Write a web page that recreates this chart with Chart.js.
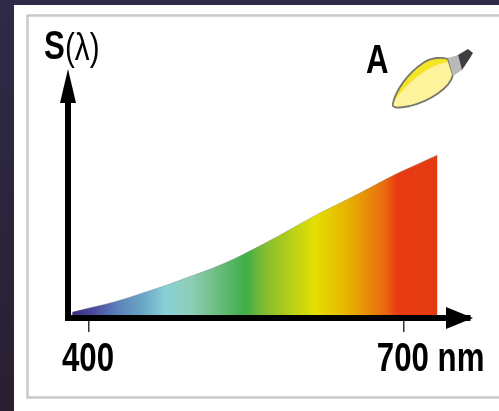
<!DOCTYPE html>
<html>
<head>
<meta charset="utf-8">
<title>S(λ)</title>
<script src="https://cdn.jsdelivr.net/npm/chart.js@4"></script>
<style>
  html, body { margin:0; padding:0; width:499px; height:411px; overflow:hidden; background:linear-gradient(#2e2a48, #2a1f30); }
  canvas { position:absolute; left:0; top:0; filter:blur(0.5px); }
</style>
</head>
<body>
<canvas id="chart" width="499" height="411"></canvas>
<script>
// Values
const wavelengths = [384, 404, 427, 451, 474, 496, 518, 541, 566, 594, 620, 641, 658, 684, 699, 732];
const intensity   = [2.7, 5.0, 7.8, 11.5, 15.1, 19.0, 22.9, 27.8, 33.9, 41.3, 48.2, 53.2, 57.3, 64.0, 67.5, 74.8];
const tickValues  = [400, 700];
const tickLabels  = ["400", "700 nm"];

// Spectrum colours along the wavelength axis
const stopWavelengths = [384, 404, 427, 451, 472, 496, 518, 549, 568, 615, 649, 682, 694, 732];
const stopColors = ["#3b2f86", "#4b4a9c", "#5b82bb", "#6aa5c5", "#88cfd6", "#8fcfb8", "#72c088", "#3fae48",
                    "#85bd30", "#e4e000", "#e8ae00", "#e86a10", "#ea3a12", "#e33a12"];

const LABEL_FONT = "bold 40px 'Liberation Sans', sans-serif";
const NARROW = 0.78; // the original lettering is a condensed face

function spectrumFill(ctx){
  const { chart } = ctx;
  if (!chart.chartArea) return "#888";
  const x = chart.scales.x;
  const grad = chart.ctx.createLinearGradient(x.getPixelForValue(stopWavelengths[0]), 0, x.getPixelForValue(stopWavelengths.at(-1)), 0);
  const span = stopWavelengths.at(-1) - stopWavelengths[0];
  stopWavelengths.forEach((w, i) => grad.addColorStop((w - stopWavelengths[0]) / span, stopColors[i]));
  return grad;
}

function narrowText(c, text, x, y){
  c.save();
  c.translate(x, y);
  c.scale(NARROW, 1);
  c.fillText(text, 0, 0);
  c.restore();
}

function drawBulb(c){
  const glass = new Path2D("M393 103 C396 90 408 73 423 63 C432 57 442 57 448 59 L453 75 C450 88 430 101 410 106 C398 108 391 109 393 103 Z");
  c.fillStyle = "#fdf39c";
  c.fill(glass);
  // darker yellow crescent
  c.fillStyle = "#f6e526";
  c.fill(new Path2D("M393 103 C396 90 408 73 423 63 C432 57 442 57 448 59 L449 62 C430 64 410 80 394 101 Z"));
  c.strokeStyle = "#77776a";
  c.lineWidth = 1.8;
  c.stroke(glass);
  // collar
  c.fillStyle = "#b9b9b9";
  c.fill(new Path2D("M448 58 L458 55 L462 70 L453 76 Z"));
  // screw thread
  c.fillStyle = "#3f3f3f";
  c.fill(new Path2D("M458 55 L468 49 L473 53 L470 58 L462 70 Z"));
}

// Page panel, axis arrow heads, labels and the lamp: everything that is not on a scale
const decorations = {
  id: "decorations",
  beforeDraw(chart){
    const c = chart.ctx;
    c.save();
    c.fillStyle = "#ffffff";
    c.fillRect(14, 5, 485, 406);
    c.strokeStyle = "#c9c9c9";
    c.lineWidth = 2.5;
    c.beginPath();
    c.moveTo(505, 15.5); c.lineTo(27.5, 15.5); c.lineTo(27.5, 397.5); c.lineTo(505, 397.5);
    c.stroke();
    c.restore();
  },
  afterDraw(chart){
    const c = chart.ctx;
    const { left, right, top, bottom } = chart.chartArea;
    const x = chart.scales.x;
    c.save();
    c.fillStyle = "#000";
    // arrow on y axis
    c.beginPath();
    c.moveTo(left, top - 31); c.lineTo(left + 8, top + 3); c.lineTo(left - 8, top + 3);
    c.closePath();
    c.fill();
    // arrow on x axis
    c.beginPath();
    c.moveTo(right + 3, bottom); c.lineTo(right - 24, bottom - 11); c.lineTo(right - 24, bottom + 11);
    c.closePath();
    c.fill();

    c.textBaseline = "alphabetic";
    c.textAlign = "left";
    c.font = LABEL_FONT;
    narrowText(c, "S", 44, 59);
    narrowText(c, "A", 366, 73);
    // tick labels: the digits sit centred on the tick, a unit runs on to the right
    tickValues.forEach((v, i) => {
      const digits = tickLabels[i].split(" ")[0];
      const w = c.measureText(digits).width * NARROW;
      narrowText(c, tickLabels[i], x.getPixelForValue(v) - w / 2 - 1, 371);
    });
    c.font = "38px 'Liberation Sans', sans-serif";
    narrowText(c, "(λ)", 65, 60);
    drawBulb(c);
    c.restore();
  }
};

new Chart(document.getElementById("chart"), {
  type: "line",
  data: {
    datasets: [{
      data: wavelengths.map((w, i) => ({ x: w, y: intensity[i] })),
      parsing: false,
      borderWidth: 1,
      borderColor: "rgba(120,120,120,0.3)",
      pointRadius: 0,
      cubicInterpolationMode: "monotone",
      fill: "origin",
      backgroundColor: spectrumFill
    }]
  },
  options: {
    responsive: false,
    animation: false,
    events: [],
    layout: { padding: { top: 100, right: 29, left: 0, bottom: 0 } },
    plugins: { legend: { display: false }, tooltip: { enabled: false } },
    scales: {
      x: {
        type: "linear",
        min: 380,
        max: 763,
        afterBuildTicks: (scale) => { scale.ticks = tickValues.map(v => ({ value: v })); },
        afterFit: (scale) => { scale.height = 93; },
        border: { color: "#000", width: 6, z: 1 },
        grid: { drawOnChartArea: false, drawTicks: true, tickLength: 14, color: "#333", lineWidth: 1.5 },
        ticks: { display: false, autoSkip: false }
      },
      y: {
        min: 0,
        max: 100,
        afterFit: (scale) => { scale.width = 68; },
        border: { color: "#000", width: 6, z: 1 },
        grid: { display: false },
        ticks: { display: false }
      }
    }
  },
  plugins: [decorations]
});
</script>
</body>
</html>
